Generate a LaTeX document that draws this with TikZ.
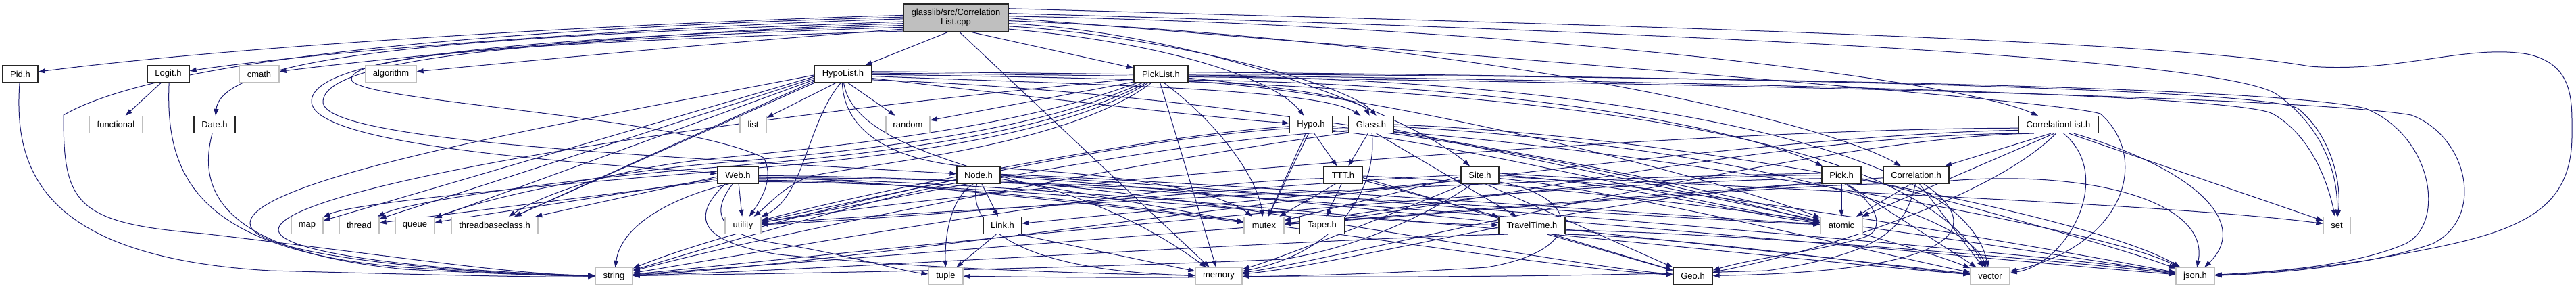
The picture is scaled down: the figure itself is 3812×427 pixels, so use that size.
\documentclass[tikz,border=0pt]{standalone}
\usepackage{fontspec}
\setmainfont{Liberation Sans}
\usetikzlibrary{arrows.meta}
\definecolor{edgec}{HTML}{191970}
\definecolor{grayb}{HTML}{BFBFBF}
\pgfdeclarelayer{bg}
\pgfsetlayers{bg,main}
\begin{document}
\begin{tikzpicture}[x=1pt,y=-1pt, font=\fontsize{13}{14}\selectfont,
  hdr/.style={draw=black!85, line width=1.3pt, fill=white, minimum height=25pt, inner sep=0pt},
  sys/.style={draw=grayb, line width=1.3pt, fill=white, minimum height=25pt, inner sep=0pt},
  e/.style={draw=edgec, line width=1pt, -{Triangle[length=10pt,width=7pt]}}]
\useasboundingbox (0,0) rectangle (3812,427);
% nodes
\node[hdr, fill=grayb, minimum width=155pt, minimum height=41pt, align=center] (T) at (1414.5,26.5) {glasslib/src/Correlation\\List.cpp};
\node[hdr, minimum width=52pt] (pid) at (30,109.5) {Pid.h};
\node[hdr, minimum width=62pt] (logit) at (249,109.5) {Logit.h};
\node[sys, minimum width=59pt] (cmath) at (383.5,109.5) {cmath};
\node[sys, minimum width=75pt] (algo) at (578.5,109.5) {algorithm};
\node[hdr, minimum width=85pt] (hlist) at (1247.5,109.5) {HypoList.h};
\node[hdr, minimum width=80pt] (plist) at (1718,109.5) {PickList.h};
\node[sys, minimum width=79pt] (func) at (171.5,184) {functional};
\node[hdr, minimum width=61pt] (date) at (317.5,184) {Date.h};
\node[sys, minimum width=39pt] (list) at (1114.5,184) {list};
\node[sys, minimum width=65pt] (random) at (1343.5,184) {random};
\node[hdr, minimum width=64pt] (hypo) at (1940,184) {Hypo.h};
\node[hdr, minimum width=66pt] (glass) at (2029,184) {Glass.h};
\node[hdr, minimum width=118pt] (clist) at (3046,184) {CorrelationList.h};
\node[hdr, minimum width=60pt] (web) at (1092,258.5) {Web.h};
\node[hdr, minimum width=64pt] (node) at (1448,258.5) {Node.h};
\node[hdr, minimum width=57pt] (ttt) at (1987.5,258.5) {TTT.h};
\node[hdr, minimum width=56pt] (site) at (2190,258.5) {Site.h};
\node[hdr, minimum width=58pt] (pick) at (2725,258.5) {Pick.h};
\node[hdr, minimum width=97pt] (corr) at (2835.5,258.5) {Correlation.h};
\node[sys, minimum width=47pt] (map) at (454.5,333) {map};
\node[sys, minimum width=59pt] (thread) at (531.5,333) {thread};
\node[sys, minimum width=58pt] (queue) at (614,333) {queue};
\node[sys, minimum width=128pt] (tbc) at (732,333) {threadbaseclass.h};
\node[sys, minimum width=53pt] (util) at (1099.5,333) {utility};
\node[hdr, minimum width=57pt] (link) at (1483.5,333) {Link.h};
\node[sys, minimum width=59pt] (mutex) at (1870.5,333) {mutex};
\node[hdr, minimum width=67pt] (taper) at (1956.5,333) {Taper.h};
\node[hdr, minimum width=98pt] (tt) at (2267,333) {TravelTime.h};
\node[sys, minimum width=62pt] (atomic) at (2725,333) {atomic};
\node[sys, minimum width=40pt] (set) at (3458,333) {set};
\node[sys, minimum width=55pt] (string) at (908.5,408) {string};
\node[sys, minimum width=51pt] (tuple) at (1399.5,408) {tuple};
\node[sys, minimum width=69pt] (memory) at (1803.5,408) {memory};
\node[hdr, minimum width=58pt] (geo) at (2505,408) {Geo.h};
\node[sys, minimum width=58pt] (vector) at (2945,408) {vector};
\node[sys, minimum width=57pt] (json) at (3248.5,408) {json.h};
\begin{pgfonlayer}{bg}
% straight edges
\foreach \a/\b in {T.240/hlist, T.318/plist, T.285/memory, logit.230/func,
  hlist.230/list, hlist.300/random, hlist.194/tbc, hlist.197/tbc, hlist.191/queue, hlist.188/thread, hlist.185/map,
  plist.196/random, plist.265/memory,
  hypo.290/ttt, glass.250/ttt, glass.300/tt, hypo.240/mutex, hypo.255/mutex, glass.-12/atomic,
  ttt.260/taper, ttt.230/mutex, ttt.-15/tt, ttt.-8/geo,
  web.275/util, web.185/tbc, web.190/queue, web.195/thread,
  node.290/link, link.235/tuple, link.330/memory, node.192/util, node.-10/mutex,
  site.185/mutex, site.300/geo, site.195/link, tt.-30/geo,
  pick.270/atomic, pick.300/vector, corr.240/atomic, corr.290/vector,
  clist.230/corr, clist.245/atomic, clist.320/set}
  \draw[e] (\a) -- (\b);
% top node
\draw[e] (T.177) .. controls (1000,32) and (400,62) .. (pid);
\draw[e] (T.181) .. controls (1000,38) and (500,72) .. (logit);
\draw[e] (T.186) .. controls (1000,45) and (600,82) .. (cmath);
\draw[e] (T.192) .. controls (1100,60) and (800,88) .. (algo);
\draw[e] (T.184) .. controls (800,52) and (330,70) .. (date);
\draw[e] (T.179) .. controls (800,40) and (250,80) .. (94,170) .. controls (94,300) and (110,330) .. (300,345) .. controls (600,380) and (750,405) .. (string);
\draw[e] (T.188) .. controls (800,56) and (461,80) .. (461,150) .. controls (462,215) and (850,240) .. (web);
\draw[e] (T.190) .. controls (800,58) and (480,85) .. (478,150) .. controls (476,205) and (900,228) .. (node);
\draw[e] (T.194) .. controls (800,62) and (520,80) .. (520,117) .. controls (520,150) and (1000,170) .. (1130,233) .. controls (1145,260) and (1130,290) .. (util);
\draw[e] (T.-12) .. controls (1700,60) and (1880,110) .. (hypo);
\draw[e] (T.-9) .. controls (1700,50) and (1990,120) .. (glass.60);
\draw[e] (T.-6) .. controls (1800,50) and (2100,180) .. (site);
\draw[e] (T.2) .. controls (2300,40) and (2900,120) .. (clist);
\draw[e] (T.-3) .. controls (2200,60) and (2700,180) .. (corr);
\draw[e] (T.0) .. controls (2400,100) and (3050,150) .. (3108,168) .. controls (3180,230) and (3150,360) .. (vector);
\draw[e] (T.10) .. controls (2500,40) and (3200,60) .. (3418,98) .. controls (3550,108) and (3650,65) .. (3740,80) .. controls (3810,95) and (3806,150) .. (3806,200) .. controls (3806,330) and (3700,350) .. (3500,385) .. controls (3400,400) and (3320,405) .. (json);
\draw[e] (T.5) .. controls (2600,50) and (3300,90) .. (3370,140) .. controls (3440,190) and (3460,260) .. (set);
% Pid, Logit, Date
\draw[e] (pid) .. controls (20,250) and (60,380) .. (400,400) .. controls (700,408) and (820,410) .. (string);
\draw[e] (logit.275) .. controls (245,250) and (280,370) .. (600,395) .. controls (750,405) and (830,408) .. (string);
\draw[e] (date) .. controls (295,270) and (310,370) .. (600,398) .. controls (760,406) and (840,408) .. (string);
% HypoList
\draw[e] (hlist.255) .. controls (1195,180) and (1190,290) .. (util);
\draw[e] (hlist.182) .. controls (900,170) and (370,260) .. (370,330) .. controls (370,380) and (700,405) .. (string);
\draw[e] (hlist.-8) .. controls (1500,140) and (1800,175) .. (hypo);
\draw[e] (hlist.-4) .. controls (1600,125) and (1950,130) .. (glass.140);
\draw[e] (hlist.275) .. controls (1260,200) and (1400,240) .. (1566,283) .. controls (1680,320) and (1750,370) .. (memory);
\draw[e] (hlist.265) .. controls (1250,200) and (1330,240) .. (1444,247) .. controls (1650,255) and (1800,280) .. (mutex);
\draw[e] (hlist.-1) .. controls (2000,118) and (2800,150) .. (vector);
\draw[e] (hlist.-11) .. controls (1900,140) and (2500,270) .. (atomic);
\draw[e] (hlist.2) .. controls (2300,118) and (3400,140) .. (3568,170) .. controls (3650,200) and (3680,320) .. (3600,360) .. controls (3500,395) and (3350,405) .. (json);
\draw[e] (hlist.5) .. controls (2300,115) and (3300,135) .. (3363,168) .. controls (3420,200) and (3445,270) .. (set);
% PickList
\draw[e] (plist.200) .. controls (1500,190) and (1250,215) .. (1050,235) .. controls (900,250) and (800,290) .. (tbc);
\draw[e] (plist.205) .. controls (1520,200) and (1250,225) .. (1050,242) .. controls (850,260) and (700,300) .. (queue);
\draw[e] (plist.210) .. controls (1540,205) and (1250,232) .. (1050,248) .. controls (800,268) and (600,300) .. (thread);
\draw[e] (plist.214) .. controls (1560,210) and (1250,238) .. (1050,254) .. controls (800,274) and (520,300) .. (map);
\draw[e] (plist.222) .. controls (1580,215) and (1300,240) .. (1200,260) .. controls (1160,275) and (1140,300) .. (util);
\draw[e] (plist.190) .. controls (1000,180) and (410,280) .. (412,340) .. controls (415,380) and (700,403) .. (string);
\draw[e] (plist.290) .. controls (1800,180) and (1860,260) .. (mutex);
\draw[e] (plist.-8) .. controls (1850,125) and (2010,140) .. (glass.100);
\draw[e] (plist.-12) .. controls (2300,125) and (2600,200) .. (pick);
\draw[e] (plist.-4) .. controls (2300,115) and (2900,200) .. (vector);
\draw[e] (plist.-15) .. controls (2000,130) and (2500,250) .. (atomic);
\draw[e] (plist.0) .. controls (2400,112) and (3350,125) .. (3500,160) .. controls (3600,200) and (3620,330) .. (3560,360) .. controls (3480,395) and (3350,402) .. (json);
\draw[e] (plist.4) .. controls (2400,112) and (3340,128) .. (3400,160) .. controls (3450,200) and (3465,270) .. (set);
% Hypo, Glass
\draw[e] (hypo.185) .. controls (1700,200) and (1300,280) .. (util);
\draw[e] (hypo.190) .. controls (1600,210) and (1100,330) .. (string);
\draw[e] (hypo.-10) .. controls (2300,200) and (3100,330) .. (json);
\draw[e] (hypo.-5) .. controls (2300,220) and (2800,350) .. (vector);
\draw[e] (hypo.-15) .. controls (2200,220) and (2500,300) .. (atomic);
\draw[e] (glass.275) .. controls (2038,270) and (1990,370) .. (memory);
\draw[e] (glass.0) .. controls (2500,200) and (3100,320) .. (json);
\draw[e] (glass.-5) .. controls (2500,210) and (2900,300) .. (vector);
\draw[e] (glass.200) .. controls (1800,220) and (1200,330) .. (string);
\draw[e] (glass.195) .. controls (1700,210) and (1300,300) .. (util);
% TTT
\draw[e] (ttt.190) .. controls (1700,270) and (1200,360) .. (string);
\draw[e] (ttt.-3) .. controls (2400,275) and (3000,370) .. (json);
% Site
\draw[e] (site.230) .. controls (2111,318) and (2015,364) .. (1900,383) .. controls (1500,400) and (1100,405) .. (string);
\draw[e] (site.180) .. controls (1900,270) and (1400,320) .. (util);
\draw[e] (site.210) .. controls (2100,300) and (1900,380) .. (memory);
\draw[e] (site.-10) .. controls (2400,280) and (2800,380) .. (vector);
\draw[e] (site.-5) .. controls (2500,270) and (3100,380) .. (json);
\draw[e] (site.0) .. controls (2400,270) and (2600,320) .. (atomic);
\draw[e] (site.-20) .. controls (2340,290) and (2350,370) .. (2200,395) .. controls (1900,415) and (1600,410) .. (tuple);
\draw[e] (site.5) .. controls (2600,280) and (3200,300) .. (set);
% Web
\draw[e] (web.225) .. controls (1000,290) and (920,330) .. (string);
\draw[e] (web.240) .. controls (1052,313) and (1059,346) .. (1152,360) .. controls (1250,375) and (1330,400) .. (tuple);
\draw[e] (web.215) .. controls (1012,330) and (1052,360) .. (1152,376) .. controls (1400,400) and (1650,405) .. (memory);
\draw[e] (web.-5) .. controls (1300,265) and (1700,310) .. (mutex);
\draw[e] (web.-10) .. controls (1600,265) and (2600,380) .. (vector);
\draw[e] (web.-2) .. controls (1700,260) and (2900,380) .. (json);
\draw[e] (web.-8) .. controls (1600,260) and (2400,320) .. (atomic);
\draw[e] (web.-14) .. controls (1600,270) and (2200,390) .. (geo);
\draw[e] (web.-18) .. controls (1500,270) and (2000,330) .. (tt);
% Node
\draw[e] (node.240) .. controls (1410,290) and (1398,340) .. (tuple);
\draw[e] (node.260) .. controls (1430,330) and (1500,400) .. (memory);
\draw[e] (node.200) .. controls (1300,290) and (1000,380) .. (string);
\draw[e] (node.-4) .. controls (1800,280) and (2700,380) .. (vector);
\draw[e] (node.-1) .. controls (1800,275) and (3000,370) .. (json);
\draw[e] (node.2) .. controls (1800,270) and (2500,320) .. (atomic);
\draw[e] (node.-15) .. controls (1800,290) and (2300,390) .. (geo);
% TravelTime
\draw[e] (tt.200) .. controls (2000,350) and (1200,400) .. (string);
\draw[e] (tt.-8) .. controls (2600,345) and (3100,390) .. (json);
\draw[e] (tt.-15) .. controls (2500,350) and (2800,395) .. (vector);
% Pick
\draw[e] (pick.-10) .. controls (2900,300) and (3150,370) .. (json);
\draw[e] (pick.210) .. controls (2400,280) and (2000,390) .. (memory);
\draw[e] (pick.190) .. controls (2200,270) and (1200,380) .. (string);
\draw[e] (pick.180) .. controls (2300,262) and (2000,320) .. (mutex);
\draw[e] (pick.175) .. controls (2200,265) and (1400,310) .. (util);
\draw[e] (pick.290) .. controls (2780,300) and (2790,340) .. (2760,350) .. controls (2700,370) and (2600,380) .. (geo);
% Correlation
\draw[e] (corr.-10) .. controls (3100,250) and (3270,300) .. (json);
\draw[e] (corr.265) .. controls (2820,340) and (2780,375) .. (2615,400) .. controls (2300,410) and (2000,410) .. (memory);
\draw[e] (corr.185) .. controls (2700,268) and (1300,380) .. (string);
\draw[e] (corr.195) .. controls (2600,275) and (2100,320) .. (mutex);
\draw[e] (corr.310) .. controls (2920,320) and (2950,400) .. (geo);
% CorrelationList
\draw[e] (clist.185) .. controls (2500,190) and (1500,270) .. (util);
\draw[e] (clist.300) .. controls (3130,260) and (3060,390) .. (vector);
\draw[e] (clist.200) .. controls (2700,200) and (2000,380) .. (memory);
\draw[e] (clist.193) .. controls (2600,200) and (2100,320) .. (mutex);
\draw[e] (clist.188) .. controls (2500,200) and (1300,390) .. (string);
\draw[e] (clist.-30) .. controls (3250,250) and (3330,330) .. (json);
\draw[e] (clist.255) .. controls (2950,290) and (2700,370) .. (geo);
\end{pgfonlayer}
\end{tikzpicture}
\end{document}
